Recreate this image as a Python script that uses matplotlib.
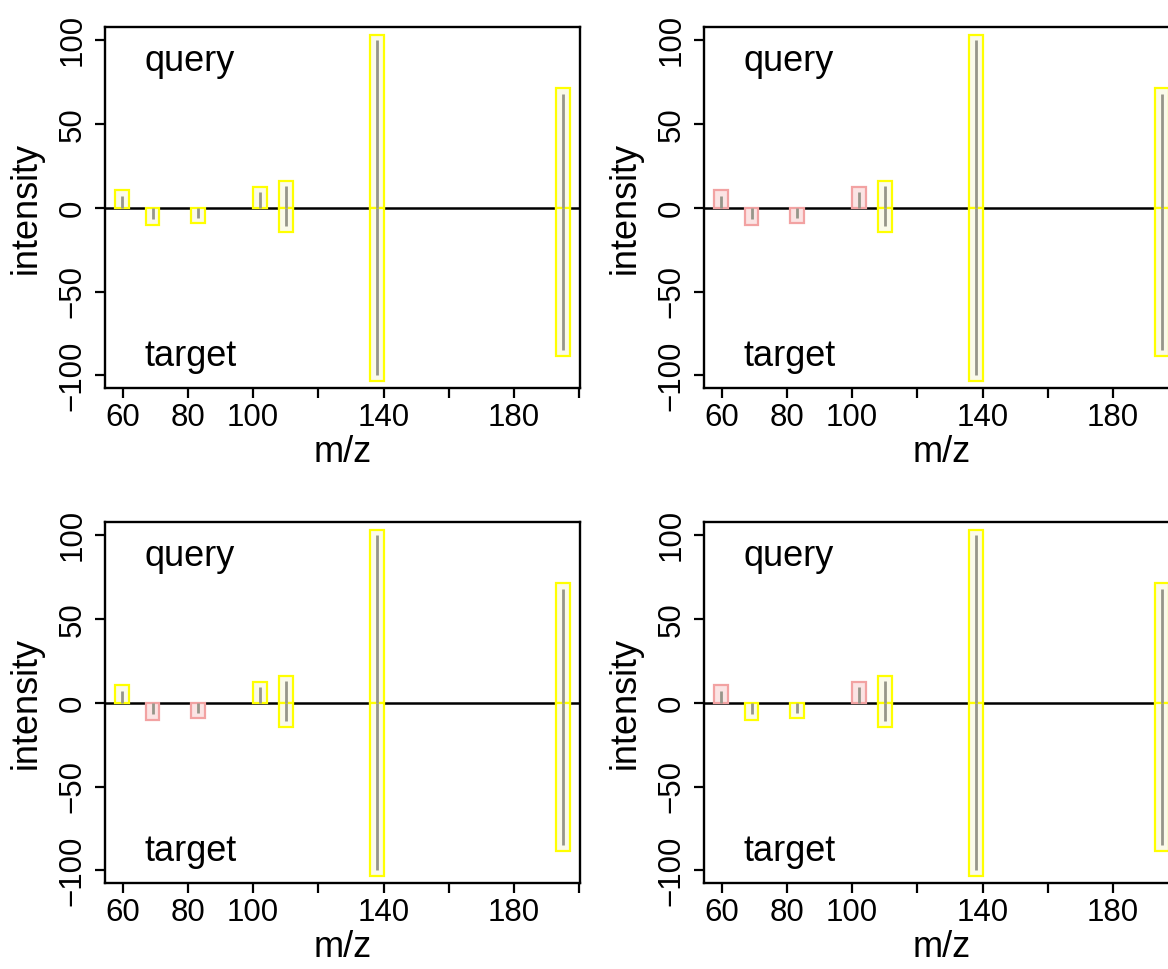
import numpy as np
import matplotlib.pyplot as plt
from matplotlib.patches import Rectangle

plt.rcParams['font.family'] = ['Liberation Sans', 'DejaVu Sans']

# peaks of the two spectra
query_mz = [59.8, 102.1, 110.0, 138.0, 194.9]
query_int = [7.3, 9.3, 12.9, 100.0, 68.3]
target_mz = [69.2, 83.2, 110.0, 138.0, 194.9]
target_int = [6.9, 6.0, 10.9, 100.0, 85.1]

# matched (1) / unmatched (0) flags per panel: top-left, top-right, bottom-left, bottom-right
query_match = [[1, 1, 1, 1, 1], [0, 0, 1, 1, 1], [1, 1, 1, 1, 1], [0, 0, 1, 1, 1]]
target_match = [[1, 1, 1, 1, 1], [0, 0, 1, 1, 1], [0, 0, 1, 1, 1], [1, 1, 1, 1, 1]]

xticks = [60, 80, 100, 120, 140, 160, 180, 200]
xticklabels = ['60', '80', '100', '', '140', '', '180', '']
yticks = [-100, -50, 0, 50, 100]

W, H = 1168, 969
fig = plt.figure(figsize=(W / 100, H / 100), dpi=100)

lefts = [105, 704]
tops = [27, 522]
aw, ah = 475, 361

edge = {1: '#ffff00', 0: '#f2a2a2'}
fill = {1: '#fafaea', 0: '#fbe4e4'}
dx, dy = 2.1, 3.3


def draw_peaks(ax, mz, inten, match, sign):
    for m, v, ok in zip(mz, inten, match):
        ax.add_patch(Rectangle((m - dx, 0), 2 * dx, sign * (v + dy),
                               facecolor=fill[ok], edgecolor=edge[ok], lw=1.6, zorder=3))
        ax.plot([m, m], [0, sign * v], color='#96968a', lw=2, zorder=4,
                solid_capstyle='butt')


k = 0
for r in range(2):
    for c in range(2):
        ax = fig.add_axes([lefts[c] / W, 1 - (tops[r] + ah) / H, aw / W, ah / H])
        ax.axhline(0, color='black', lw=1.8, zorder=2)
        draw_peaks(ax, query_mz, query_int, query_match[k], 1)
        draw_peaks(ax, target_mz, target_int, target_match[k], -1)
        ax.set_xlim(54.6, 200.2)
        ax.set_ylim(-107.5, 108)
        ax.set_xticks(xticks)
        ax.set_xticklabels(xticklabels)
        ax.set_yticks(yticks)
        ax.tick_params(direction='out', length=7.5, width=1.6, labelsize=22.5, pad=3)
        ax.tick_params(axis='y', labelrotation=90, pad=5)
        for lab in ax.get_yticklabels():
            lab.set_va('center')
        for s in ax.spines.values():
            s.set_linewidth(1.7)
        ax.set_xlabel('m/z', fontsize=26, labelpad=2)
        ax.set_ylabel('intensity', fontsize=26, labelpad=10)
        ax.text(0.084, 0.877, 'query', transform=ax.transAxes, fontsize=26, va='baseline')
        ax.text(0.084, 0.062, 'target', transform=ax.transAxes, fontsize=26, va='baseline')
        k += 1

fig.savefig('out.png', dpi=100)
